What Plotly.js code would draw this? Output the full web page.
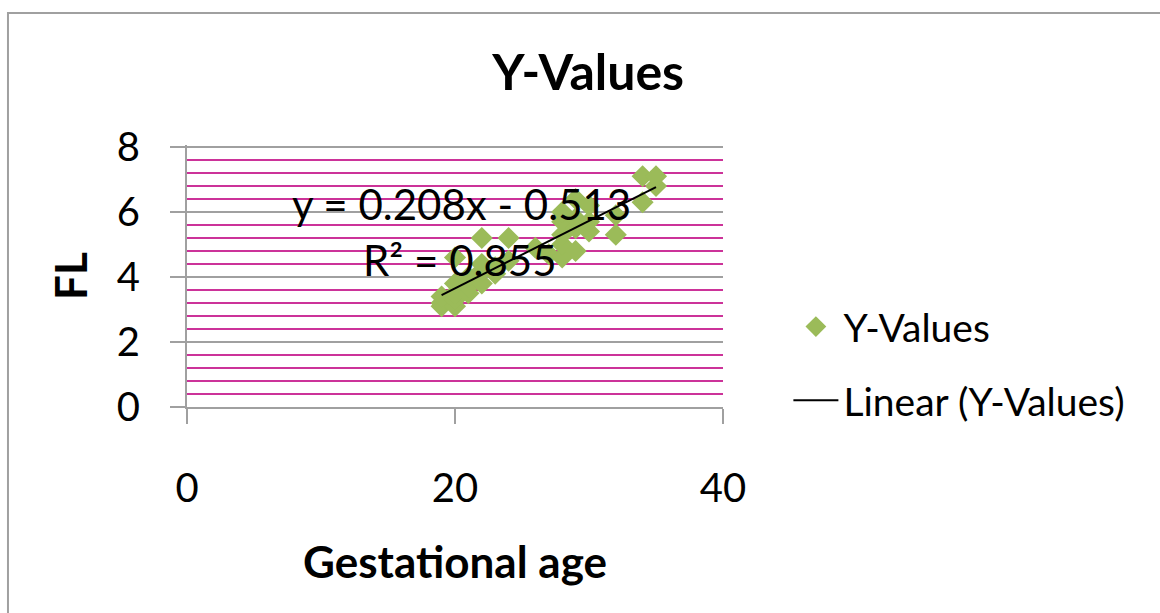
<!DOCTYPE html>
<html>
<head>
<meta charset="utf-8">
<script src="https://cdn.plot.ly/plotly-3.0.1.min.js"></script>
<style>html,body{margin:0;padding:0;background:#fff;}#chart{width:1160px;height:613px;}</style>
</head>
<body>
<div id="chart"></div>
<script>
// Gestational age (weeks) and FL values
const gestAge = [19, 19, 19, 20, 20, 20, 20, 20, 21, 21, 21, 22, 22, 22, 22, 23, 23, 24, 24, 26, 27,
                 28, 28, 28, 28, 28, 29, 29, 29, 29, 30, 30, 30, 32, 32, 34, 34, 35, 35];
const flValues = [3.1, 3.2, 3.4, 3.1, 3.3, 3.5, 3.8, 4.6, 3.5, 3.7, 4.0, 3.8, 4.2, 4.4, 5.2, 4.1, 4.3, 5.2, 4.5, 4.9, 4.7,
                  4.6, 5.0, 5.3, 5.7, 6.0, 4.8, 5.5, 5.8, 6.4, 5.4, 5.7, 6.2, 5.3, 5.9, 6.3, 7.1, 6.8, 7.1];
// Trendline coefficients as printed on the chart
const slope = 0.208;
const intercept = -0.513;
const rSquared = 0.855;
const xTicks = [0, 20, 40];
const yTicks = [0, 2, 4, 6, 8];

const xMin = Math.min(...gestAge), xMax = Math.max(...gestAge);
const trendX = [xMin, xMax];
const trendY = trendX.map(v => slope * v + intercept);

const FONT = 'Lato, "Open Sans", sans-serif';

const traces = [
  {
    x: gestAge, y: flValues, type: 'scatter', mode: 'markers', name: 'Y-Values',
    marker: {symbol: 'diamond', size: 17, color: '#9bbb59'},
    legendgroup: 'a'
  },
  {
    x: trendX, y: trendY, type: 'scatter', mode: 'lines', name: 'Linear (Y-Values)',
    line: {color: '#000000', width: 2},
    legendgroup: 'b'
  }
];

const layout = {
  width: 1160, height: 613,
  margin: {l: 187, r: 437, t: 145, b: 206},
  paper_bgcolor: '#ffffff', plot_bgcolor: '#ffffff',
  font: {family: FONT, color: '#000000'},
  title: {text: '<b>Y-Values</b>', font: {family: FONT, size: 50, color: '#000'},
          xref: 'container', x: 0.507, xanchor: 'center', yref: 'container', y: 0.882, yanchor: 'middle'},
  showlegend: true,
  legend: {x: 1.122, xanchor: 'left', y: 0.165, yanchor: 'middle', font: {family: FONT, size: 39},
           itemwidth: 45, tracegroupgap: 20, bgcolor: 'rgba(0,0,0,0)'},
  xaxis: {
    range: [0, 40], tickvals: xTicks, showgrid: false, zeroline: false,
    showline: true, linecolor: '#a0a0a0', linewidth: 2,
    ticks: 'outside', ticklen: 15, tickcolor: '#a0a0a0', tickwidth: 2,
    tickfont: {family: FONT, size: 40}, ticklabelstandoff: 30,
    title: {text: '<b>Gestational age</b>', font: {family: FONT, size: 44}, standoff: 37}
  },
  yaxis: {
    range: [0, 8.06], tickvals: yTicks, showgrid: true, gridcolor: '#a0a0a0', gridwidth: 2,
    zeroline: false, showline: true, linecolor: '#a0a0a0', linewidth: 2,
    ticks: 'outside', ticklen: 15, tickcolor: '#a0a0a0', tickwidth: 2,
    tickfont: {family: FONT, size: 40}, ticklabelstandoff: 22,
    minor: {dtick: 0.4, showgrid: true, gridcolor: '#cc3399', gridwidth: 2},
    title: {text: '<b>FL</b>', font: {family: FONT, size: 44}, standoff: 15}
  },
  annotations: [
    {x: 20.45, y: 6.25, xref: 'x', yref: 'y', text: 'y = ' + slope + 'x - ' + Math.abs(intercept),
     showarrow: false, font: {family: FONT, size: 42, color: '#000'}},
    {x: 20.4, y: 4.52, xref: 'x', yref: 'y', text: 'R² = ' + rSquared,
     showarrow: false, font: {family: FONT, size: 42, color: '#000'}}
  ],
  shapes: [
    {type: 'rect', xref: 'paper', yref: 'paper', x0: -0.334, x1: 1.9, y0: -0.9, y1: 1.504,
     line: {color: '#a0a0a0', width: 2}, fillcolor: 'rgba(0,0,0,0)', layer: 'below'}
  ]
};

Plotly.newPlot('chart', traces, layout, {displayModeBar: false, staticPlot: true});
</script>
</body>
</html>
